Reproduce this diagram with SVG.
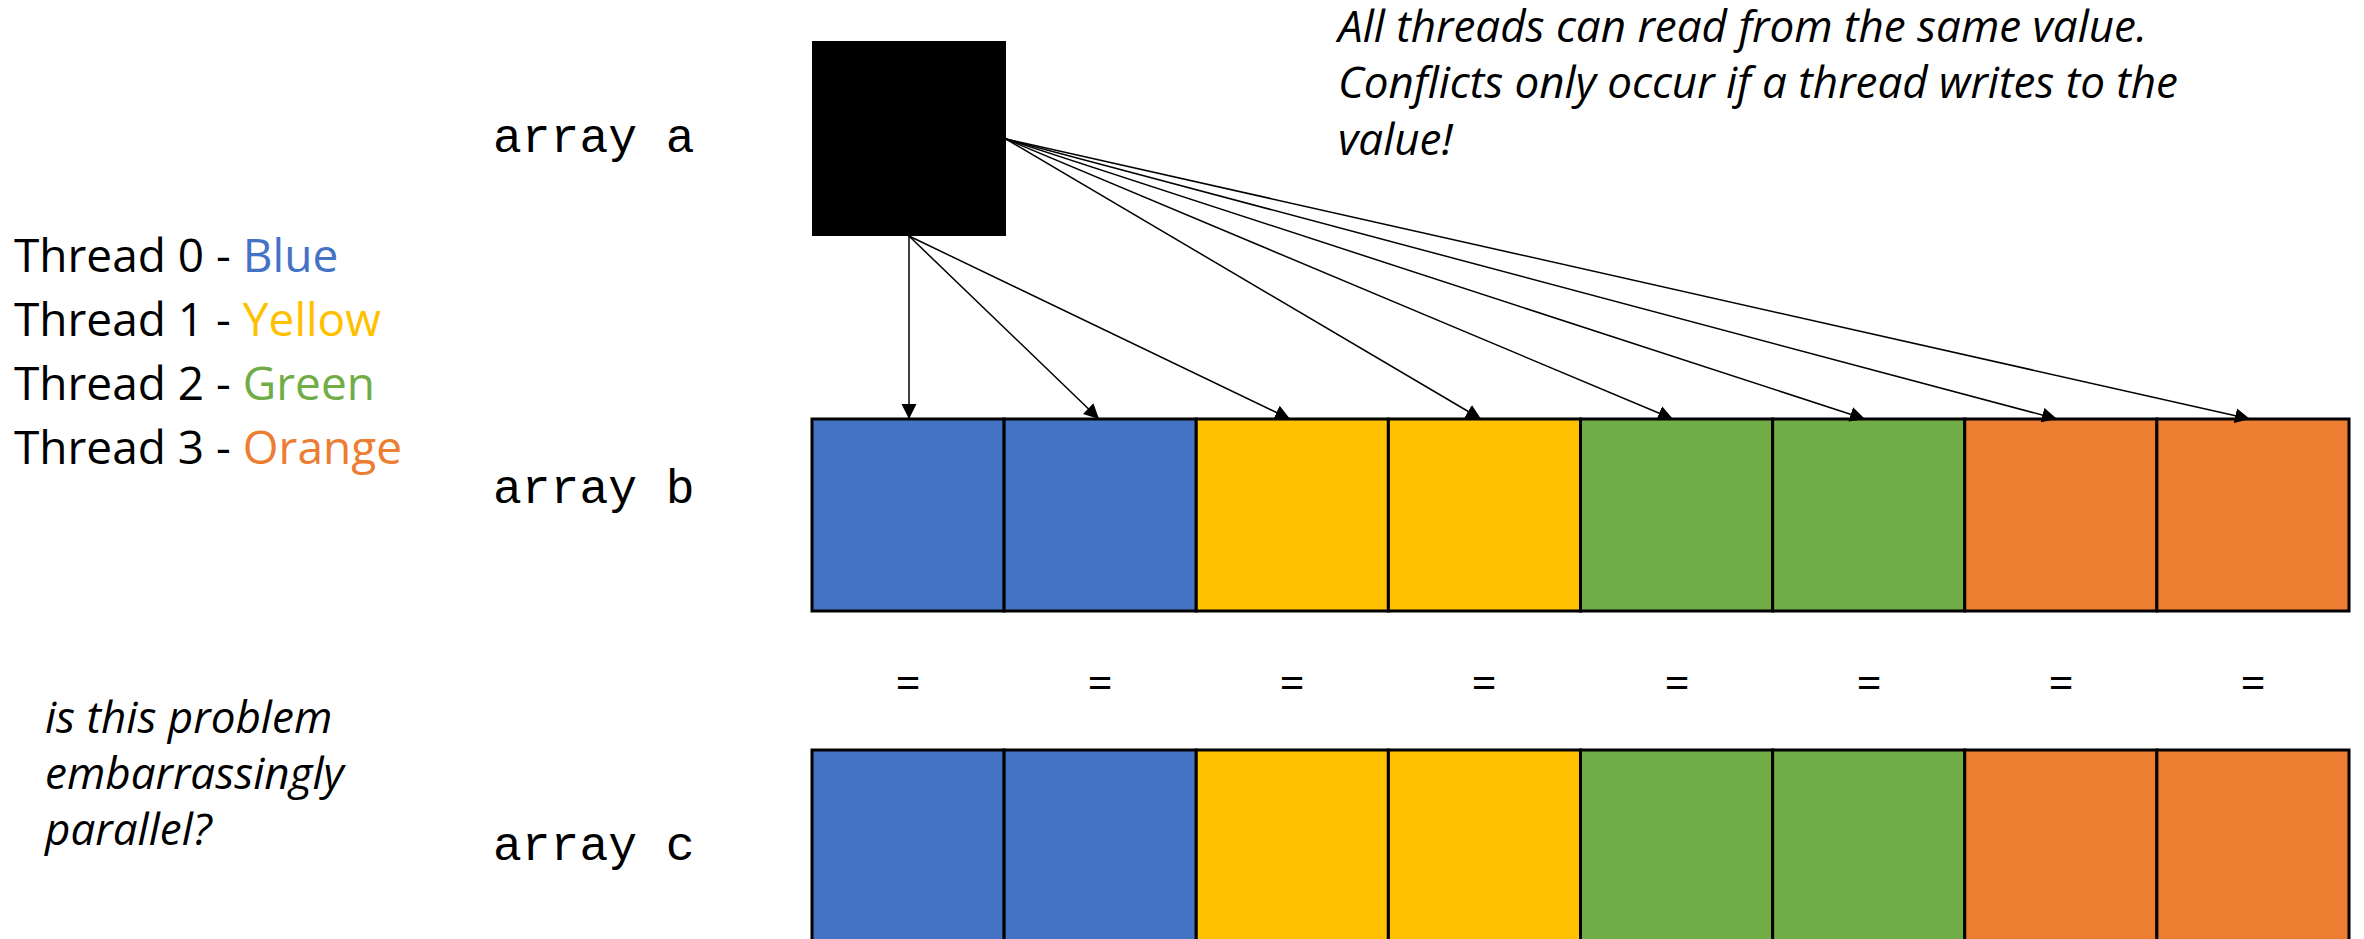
<svg xmlns="http://www.w3.org/2000/svg" width="2364" height="939" viewBox="0 0 2364 939">
  <style>
    .mono { font-family: "Liberation Mono", "Courier New", monospace; font-size: 48px; fill: #000; }
    .sans { font-family: "Open Sans", "Noto Sans", sans-serif; font-size: 46px; fill: #000; }
    .note { font-family: "Open Sans", "Noto Sans", sans-serif; font-style: italic; font-size: 44px; fill: #000; }
    .eq { font-family: "Open Sans", "Noto Sans", sans-serif; font-size: 44px; fill: #000; text-anchor: middle; }
    .cell { stroke: #000; stroke-width: 3; }
    .blue { fill: #4472C4; }
    .yellow { fill: #FFC000; }
    .green { fill: #70AD47; }
    .orange { fill: #ED7D31; }
    .link { stroke: #000; stroke-width: 1.5; fill: none; marker-end: url(#head); }
  </style>
  <defs>
    <marker id="head" markerUnits="userSpaceOnUse" markerWidth="16" markerHeight="16" refX="15" refY="7.5" orient="auto">
      <path d="M0,0 L15,7.5 L0,15 z" fill="#000"/>
    </marker>
  </defs>

  <rect width="2364" height="939" fill="#fff"/>

  <!-- legend -->
  <g id="legend">
    <text class="sans" x="14" y="272">Thread 0 - <tspan class="blue">Blue</tspan></text>
    <text class="sans" x="14" y="336">Thread 1 - <tspan class="yellow">Yellow</tspan></text>
    <text class="sans" x="14" y="400">Thread 2 - <tspan class="green">Green</tspan></text>
    <text class="sans" x="14" y="464">Thread 3 - <tspan class="orange">Orange</tspan></text>
  </g>

  <g id="question">
    <text class="note" x="45" y="733">is this problem</text>
    <text class="note" x="45" y="789">embarrassingly</text>
    <text class="note" x="45" y="845">parallel?</text>
  </g>

  <g id="note">
    <text class="note" x="1338" y="42" textLength="809">All threads can read from the same value.</text>
    <text class="note" x="1338" y="98" textLength="840">Conflicts only occur if a thread writes to the</text>
    <text class="note" x="1338" y="155">value!</text>
  </g>

  <!-- row labels -->
  <text class="mono" x="493" y="152">array a</text>
  <text class="mono" x="493" y="503">array b</text>
  <text class="mono" x="493" y="860">array c</text>

  <!-- shared source value -->
  <g id="a0">
    <rect x="812" y="41" width="194" height="195" fill="#000"/>
  </g>

  <!-- array b -->
  <g id="b">
    <g id="b0"><rect class="cell blue" x="812" y="419" width="192.125" height="192"/></g>
    <g id="b1"><rect class="cell blue" x="1004.125" y="419" width="192.125" height="192"/></g>
    <g id="b2"><rect class="cell yellow" x="1196.25" y="419" width="192.125" height="192"/></g>
    <g id="b3"><rect class="cell yellow" x="1388.375" y="419" width="192.125" height="192"/></g>
    <g id="b4"><rect class="cell green" x="1580.5" y="419" width="192.125" height="192"/></g>
    <g id="b5"><rect class="cell green" x="1772.625" y="419" width="192.125" height="192"/></g>
    <g id="b6"><rect class="cell orange" x="1964.75" y="419" width="192.125" height="192"/></g>
    <g id="b7"><rect class="cell orange" x="2156.875" y="419" width="192.125" height="192"/></g>
  </g>

  <!-- equality row -->
  <g id="equals">
    <text class="eq" x="908" y="699">=</text>
    <text class="eq" x="1100" y="699">=</text>
    <text class="eq" x="1292" y="699">=</text>
    <text class="eq" x="1484" y="699">=</text>
    <text class="eq" x="1677" y="699">=</text>
    <text class="eq" x="1869" y="699">=</text>
    <text class="eq" x="2061" y="699">=</text>
    <text class="eq" x="2253" y="699">=</text>
  </g>

  <!-- array c -->
  <g id="c">
    <g id="c0"><rect class="cell blue" x="812" y="750" width="192.125" height="193"/></g>
    <g id="c1"><rect class="cell blue" x="1004.125" y="750" width="192.125" height="193"/></g>
    <g id="c2"><rect class="cell yellow" x="1196.25" y="750" width="192.125" height="193"/></g>
    <g id="c3"><rect class="cell yellow" x="1388.375" y="750" width="192.125" height="193"/></g>
    <g id="c4"><rect class="cell green" x="1580.5" y="750" width="192.125" height="193"/></g>
    <g id="c5"><rect class="cell green" x="1772.625" y="750" width="192.125" height="193"/></g>
    <g id="c6"><rect class="cell orange" x="1964.75" y="750" width="192.125" height="193"/></g>
    <g id="c7"><rect class="cell orange" x="2156.875" y="750" width="192.125" height="193"/></g>
  </g>

  <!-- reads from the shared value -->
  <g id="connectors">
    <line class="link" x1="909" y1="236" x2="909" y2="419"/>
    <line class="link" x1="909" y1="236" x2="1099" y2="419"/>
    <line class="link" x1="909" y1="236" x2="1290" y2="419"/>
    <line class="link" x1="1006" y1="139" x2="1481" y2="419"/>
    <line class="link" x1="1006" y1="139" x2="1673" y2="419"/>
    <line class="link" x1="1006" y1="139" x2="1865" y2="419"/>
    <line class="link" x1="1006" y1="139" x2="2057" y2="419"/>
    <line class="link" x1="1006" y1="139" x2="2250" y2="419"/>
  </g>
</svg>
